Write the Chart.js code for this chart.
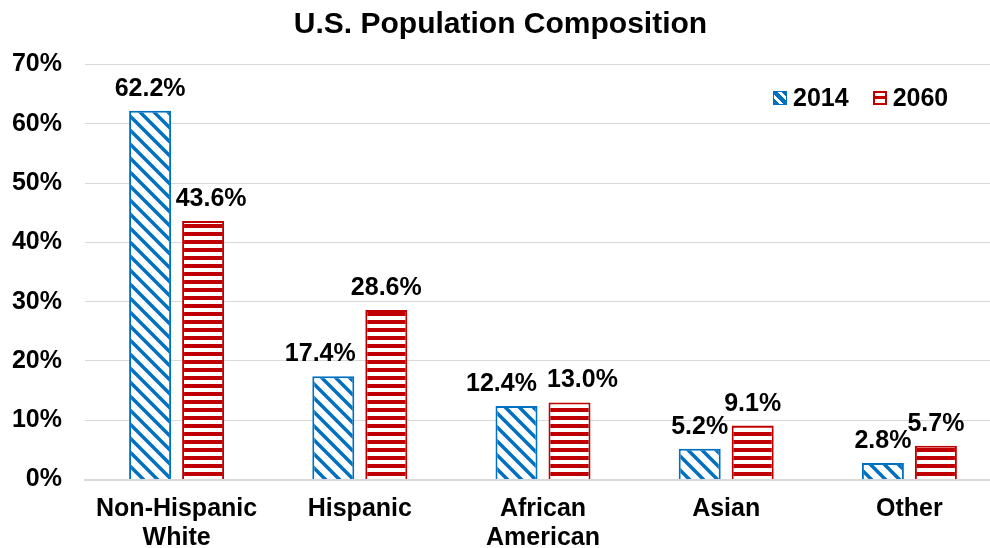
<!DOCTYPE html>
<html>
<head>
<meta charset="utf-8">
<script src="https://cdn.jsdelivr.net/npm/chart.js@4"></script>
<style>
  html, body { margin: 0; padding: 0; background: #fff; overflow: hidden; }
  #wrap { position: relative; width: 1010px; height: 548px; }
  #legend { position: absolute; left: 773px; top: 83px; display: flex; gap: 24px;
    font: bold 25px "Liberation Sans", Arial, sans-serif; color: #000; }
  #legend .item { display: flex; align-items: center; gap: 6px; line-height: 29px; }
  #legend .sw { display: inline-block; width: 14px; height: 14px; box-sizing: border-box; }
  #legend .sw.s0 { border: 1px solid #0070c0;
    background: repeating-linear-gradient(45deg, #0070c0 0 4px, #fff 4px 7px); }
  #legend .sw.s1 { border: 2px solid #c00000;
    background: linear-gradient(#fff 0 35%, #c00000 35% 65%, #fff 65%); }
</style>
</head>
<body>
<div id="wrap">
  <canvas id="c" width="1010" height="548"></canvas>
  <div id="legend"></div>
</div>
<script>
  const categories = [['Non-Hispanic', 'White'], 'Hispanic', ['African', 'American'], 'Asian', 'Other'];
  const seriesNames = ['2014', '2060'];
  const values2014 = [62.2, 17.4, 12.4, 5.2, 2.8];
  const values2060 = [43.6, 28.6, 13.0, 9.1, 5.7];
  const yTicks = [0, 10, 20, 30, 40, 50, 60, 70];

  // manual nudges of some value labels, as in the original
  const labelShift = [[0, -13, -15, 0, 0], [8, 0, 13, 0, 0]];

  const FONT = '"Liberation Sans", Arial, sans-serif';
  const BLUE = '#0070c0';
  const RED = '#c00000';

  function diagPattern() {
    const c = document.createElement('canvas');
    c.width = c.height = 14;
    const g = c.getContext('2d');
    g.fillStyle = '#fff';
    g.fillRect(0, 0, 14, 14);
    g.strokeStyle = BLUE;
    g.lineWidth = 3.5;
    g.beginPath();
    for (let k = -1; k <= 1; k++) {
      g.moveTo(-2, -2 + 14 * k);
      g.lineTo(16, 16 + 14 * k);
    }
    g.stroke();
    return g.createPattern(c, 'repeat');
  }

  function stripePattern() {
    const c = document.createElement('canvas');
    c.width = 8; c.height = 8;
    const g = c.getContext('2d');
    g.fillStyle = '#fff';
    g.fillRect(0, 0, 8, 8);
    g.fillStyle = RED;
    g.fillRect(0, 0, 8, 4);
    return g.createPattern(c, 'repeat');
  }

  const barLabels = {
    id: 'barLabels',
    afterDatasetsDraw(chart) {
      const ctx = chart.ctx;
      ctx.save();
      ctx.font = 'bold 25px ' + FONT;
      ctx.fillStyle = '#000';
      ctx.textAlign = 'center';
      ctx.textBaseline = 'alphabetic';
      chart.data.datasets.forEach((ds, i) => {
        chart.getDatasetMeta(i).data.forEach((bar, j) => {
          ctx.fillText(ds.data[j].toFixed(1) + '%', bar.x + labelShift[i][j], bar.y - 15);
        });
      });
      ctx.restore();
    }
  };

  const colors = [BLUE, RED];
  const legend = document.getElementById('legend');
  seriesNames.forEach((name, i) => {
    const item = document.createElement('span');
    item.className = 'item';
    item.innerHTML = '<i class="sw s' + i + '"></i>' + name;
    legend.appendChild(item);
  });

  new Chart(document.getElementById('c'), {
    type: 'bar',
    data: {
      labels: categories,
      datasets: [
        { label: seriesNames[0], data: values2014, backgroundColor: diagPattern(), borderColor: colors[0], borderWidth: 2 },
        { label: seriesNames[1], data: values2060, backgroundColor: stripePattern(), borderColor: colors[1], borderWidth: 2 }
      ]
    },
    options: {
      responsive: false,
      animation: false,
      categoryPercentage: 0.5786,
      barPercentage: 0.7925,
      layout: { padding: { left: 0, right: 9, top: 0, bottom: 0 } },
      plugins: {
        legend: { display: false },
        tooltip: { enabled: false },
        title: {
          display: true,
          text: 'U.S. Population Composition',
          color: '#000',
          font: { family: FONT, size: 30, weight: 'bold' },
          padding: { top: 7, bottom: 21.5 }
        }
      },
      scales: {
        x: {
          afterFit: (s) => { s.height = 68.5; },
          grid: { display: false, drawTicks: false, tickLength: 0 },
          border: { display: true, color: '#d9d9d9', width: 2 },
          ticks: {
            color: '#000',
            padding: 15,
            maxRotation: 0,
            autoSkip: false,
            font: { family: FONT, size: 25, weight: 'bold', lineHeight: 1.16 }
          }
        },
        y: {
          min: 0,
          max: yTicks[yTicks.length - 1],
          afterFit: (s) => { s.width = 85; },
          afterBuildTicks: (s) => { s.ticks = yTicks.map((v) => ({ value: v })); },
          grid: { color: '#d9d9d9', lineWidth: 1, drawTicks: false, tickLength: 0 },
          border: { display: false },
          ticks: {
            color: '#000',
            padding: 23,
            callback: (v) => v + '%',
            font: { family: FONT, size: 25, weight: 'bold' }
          }
        }
      }
    },
    plugins: [barLabels]
  });
</script>
</body>
</html>
